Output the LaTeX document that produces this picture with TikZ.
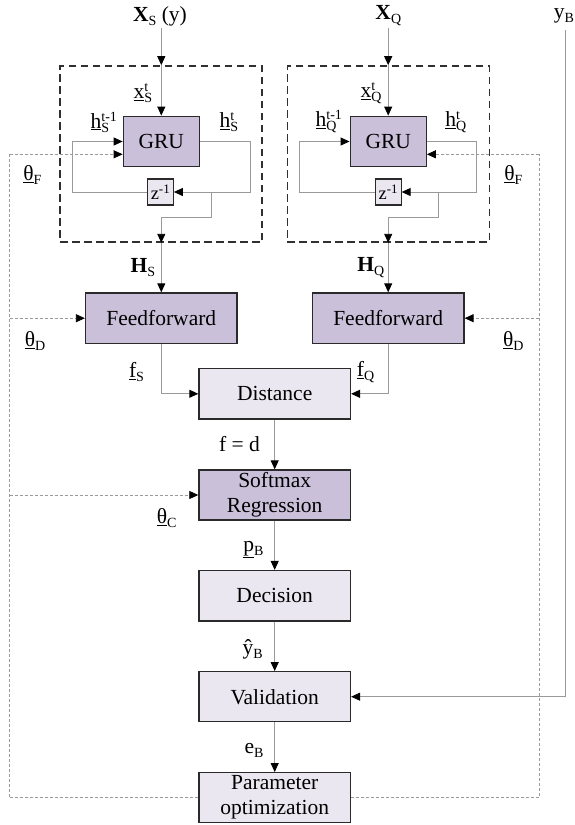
\documentclass[tikz,border=0pt]{standalone}
\usepackage{fontspec}
\setmainfont{Liberation Serif}
\usetikzlibrary{arrows.meta}

\definecolor{learnfill}{HTML}{CBC0DA}
\definecolor{plainfill}{HTML}{EBE7F0}
\definecolor{wiregray}{HTML}{9A9A9A}
\definecolor{edgegray}{HTML}{2A2A2A}
\definecolor{framegray}{HTML}{303030}

% small indices set beside a symbol
\newcommand\lsub[1]{\raisebox{-4pt}{\fontsize{14}{14}\selectfont #1}}
\newcommand\lsup[1]{\raisebox{7pt}{\fontsize{14}{14}\selectfont #1}}
% subscript and superscript stacked on one base
\newcommand\subsup[2]{%
  \sbox0{\lsub{#1}}\sbox2{\lsup{#2}}%
  \rlap{\usebox0}\rlap{\usebox2}%
  \ifdim\wd0>\wd2 \hspace{\wd0}\else\hspace{\wd2}\fi}

\tikzset{
  every node/.style={font=\fontsize{21.5}{25}\selectfont, inner sep=0pt},
  plainbox/.style={draw=edgegray, line width=1.3pt, fill=plainfill,
    minimum width=151.5pt, minimum height=50.5pt, align=center},
  learnbox/.style={plainbox, fill=learnfill},
  delaybox/.style={draw=edgegray, line width=1.1pt, fill=plainfill,
    minimum width=25.6pt, minimum height=26pt, font=\fontsize{18.5}{22}\selectfont},
  gruframe/.style={draw=framegray, line width=1.6pt, dash pattern=on 7.5pt off 4.5pt,
    minimum width=202pt, minimum height=176pt},
  wire/.style={draw=wiregray, line width=0.9pt},
  ctrl/.style={draw=wiregray, line width=0.8pt, dash pattern=on 3pt off 2pt},
  lbl/.style={anchor=center},
}

\begin{document}
\begin{tikzpicture}[x=1pt,y=-1pt,>={Triangle[length=9pt,width=8pt,color=black]}]
\useasboundingbox (0,0) rectangle (575,825);

% recurrent encoder frames
\node[gruframe] (frameS) at (161,154) {};
\node[gruframe] (frameQ) at (388.3,154) {};

% blocks
\node[learnbox, minimum width=76pt] (GRUs) at (161.3,141.5) {GRU};
\node[learnbox, minimum width=76pt] (GRUq) at (388.2,141.5) {GRU};
\node[delaybox] (zS) at (160.5,192) {z\textsuperscript{-1}};
\node[delaybox] (zQ) at (388.3,192) {z\textsuperscript{-1}};
\node[learnbox] (FFs) at (161.3,318.2) {Feedforward};
\node[learnbox] (FFq) at (388.2,318.2) {Feedforward};
\node[plainbox] (Dist) at (274.7,393.8) {Distance};
\node[learnbox, minimum height=50pt] (Soft) at (274.7,495) {Softmax\\Regression};
\node[plainbox] (Dec) at (274.7,595.8) {Decision};
\node[plainbox, minimum height=50pt] (Val) at (274.7,696.7) {Validation};
\node[plainbox, minimum height=50pt] (Opt) at (274.7,797.7) {Parameter\\optimization};

% inputs
\node[lbl] (XS) at (160,16) {\textbf{X}\lsub{S} (y)};
\node[lbl] (XQ) at (388.3,16) {\textbf{X}\lsub{Q}};
\node[lbl] (yB) at (564,16) {y\lsub{B}};
\coordinate (XSin) at (161.3,28);
\coordinate (XQin) at (388.2,28);
\coordinate (yBin) at (565,30);

\draw[wire,->] (XSin) -- (frameS.north -| XSin);
\draw[wire,->] (frameS.north -| XSin) -- (GRUs.north);
\draw[wire,->] (XQin) -- (frameQ.north -| XQin);
\draw[wire,->] (frameQ.north -| XQin) -- (GRUq.north);

% recurrent loops
\draw[wire,->] (GRUs.east) -- ++(50,0) |- (zS.east);
\draw[wire,->] (zS.west) -- ++(-75,0) |- (GRUs.west);
\draw[wire,->] (GRUq.east) -- ++(50,0) |- (zQ.east);
\draw[wire,->] (zQ.west) -- ++(-76,0) |- (GRUq.west);

\coordinate (tapS) at (211.7,192);
\coordinate (bendS) at (161.3,217.3);
\coordinate (tapQ) at (438.3,192);
\coordinate (bendQ) at (388.2,217.3);
\draw[wire,->] (tapS) |- (bendS) -- (frameS.south -| bendS);
\draw[wire,->] (tapQ) |- (bendQ) -- (frameQ.south -| bendQ);
\draw[wire,->] (frameS.south -| bendS) -- (FFs.north);
\draw[wire,->] (frameQ.south -| bendQ) -- (FFq.north);

% feature path
\draw[wire,->] (FFs.south) |- (Dist.west);
\draw[wire,->] (FFq.south) |- (Dist.east);
\draw[wire,->] (Dist.south) -- (Soft.north);
\draw[wire,->] (Soft.south) -- (Dec.north);
\draw[wire,->] (Dec.south) -- (Val.north);
\draw[wire,->] (Val.south) -- (Opt.north);
\draw[wire,->] (yBin) |- (Val.east);

% parameter updates
\coordinate (ctlL) at (9.5,154.3);
\coordinate (ctlR) at (539.3,154.3);
\draw[ctrl] (Opt.west) -| (ctlL);
\draw[ctrl] (Opt.east) -| (ctlR);
\draw[ctrl,->] (ctlL) -- (ctlL -| GRUs.west);
\draw[ctrl,->] (ctlR) -- (ctlR -| GRUq.east);
\draw[ctrl,->] (FFs.west -| ctlL) -- (FFs.west);
\draw[ctrl,->] (FFq.east -| ctlR) -- (FFq.east);
\draw[ctrl,->] (Soft.west -| ctlL) -- (Soft.west);

% signal labels
\node[lbl] (xSt) at (139,93) {\underline{x}\subsup{S}{t}};
\node[lbl] (xQt) at (366,93) {\underline{x}\subsup{Q}{t}};
\node[lbl] (hSp) at (96,122) {\underline{h}\subsup{S}{t-1}};
\node[lbl] (hSn) at (225,122) {\underline{h}\subsup{S}{t}};
\node[lbl] (hQp) at (321,122) {\underline{h}\subsup{Q}{t-1}};
\node[lbl] (hQn) at (450.7,122) {\underline{h}\subsup{Q}{t}};
\node[lbl] (thFs) at (32.3,175) {\underline{θ}\lsub{F}};
\node[lbl] (thFq) at (513.3,175) {\underline{θ}\lsub{F}};
\node[lbl] (HS) at (143,268) {\textbf{H}\lsub{S}};
\node[lbl] (HQ) at (370.7,268) {\textbf{H}\lsub{Q}};
\node[lbl] (thDs) at (35,340.7) {\underline{θ}\lsub{D}};
\node[lbl] (thDq) at (513.3,340.7) {\underline{θ}\lsub{D}};
\node[lbl] (fS) at (136.5,372) {\underline{f}\lsub{S}};
\node[lbl] (fQ) at (365.5,372) {\underline{f}\lsub{Q}};
\node[lbl] (fd) at (239.5,444) {f = d};
\node[lbl] (thC) at (166.7,518.3) {\underline{θ}\lsub{C}};
\node[lbl] (pB) at (253.3,549.3) {\underline{p}\lsub{B}};
\node[lbl] (yhB) at (252.7,649.3) {ŷ\lsub{B}};
\node[lbl] (eB) at (254,750.7) {e\lsub{B}};
\end{tikzpicture}
\end{document}
